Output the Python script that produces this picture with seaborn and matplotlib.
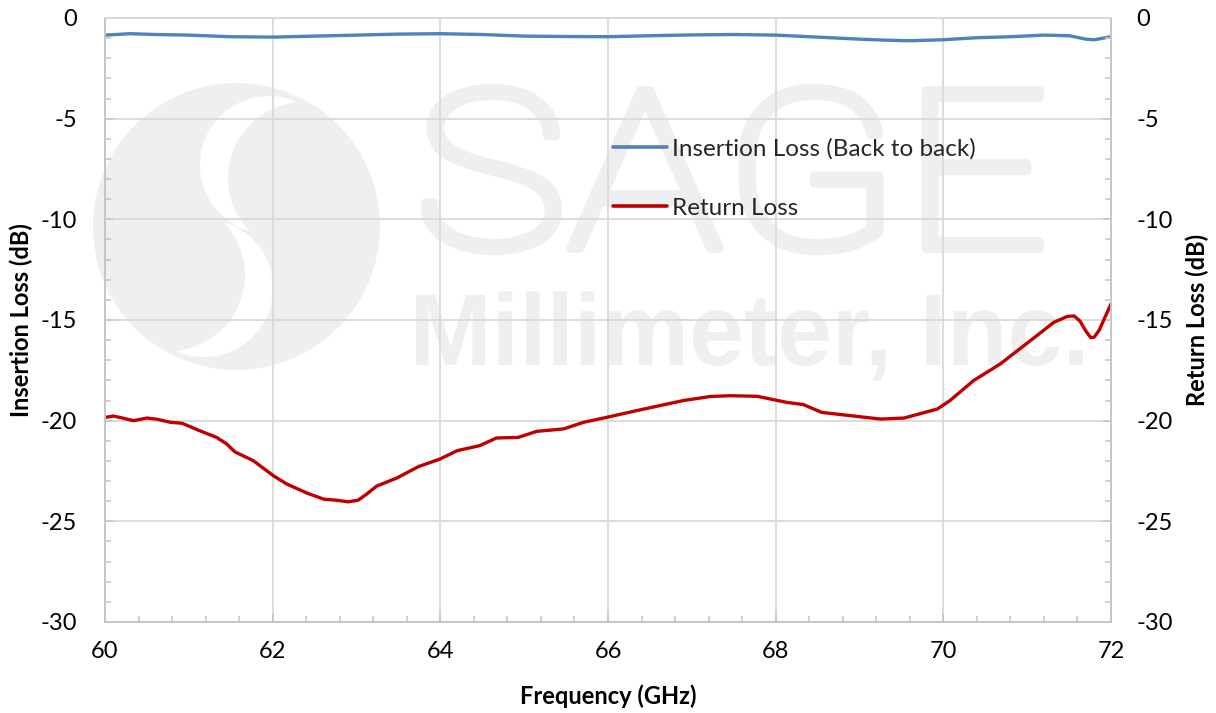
import numpy as np
import matplotlib
matplotlib.use("Agg")
import matplotlib.pyplot as plt
import seaborn as sns
from matplotlib.ticker import MultipleLocator
from matplotlib.patches import Circle, PathPatch
from matplotlib.textpath import TextPath
from matplotlib.font_manager import FontProperties
from matplotlib.transforms import Affine2D
from matplotlib.lines import Line2D

# Insertion loss, back-to-back (dB)
il_freq = [60.0, 60.3, 60.6, 61.0, 61.5, 62.0, 62.5, 63.0, 63.5, 64.0, 64.5,
           65.0, 65.5, 66.0, 66.5, 67.0, 67.5, 68.0, 68.5, 69.0, 69.3, 69.6,
           70.0, 70.4, 70.8, 71.2, 71.5, 71.7, 71.8, 72.0]
il_db = [-0.85, -0.78, -0.82, -0.85, -0.93, -0.95, -0.90, -0.85, -0.80, -0.78,
         -0.82, -0.90, -0.92, -0.93, -0.88, -0.84, -0.82, -0.85, -0.95, -1.05,
         -1.10, -1.13, -1.08, -0.98, -0.93, -0.85, -0.88, -1.05, -1.08, -0.93]

# Return loss (dB)
rl_freq = [60.00, 60.10, 60.22, 60.34, 60.50, 60.62, 60.78, 60.92, 61.13, 61.33,
           61.45, 61.55, 61.77, 62.01, 62.17, 62.41, 62.61, 62.76, 62.90, 63.02,
           63.12, 63.24, 63.48, 63.74, 64.00, 64.20, 64.47, 64.67, 64.93, 65.15,
           65.47, 65.71, 65.99, 66.31, 66.62, 66.90, 67.22, 67.46, 67.78, 68.13,
           68.33, 68.55, 68.89, 69.25, 69.53, 69.93, 70.08, 70.36, 70.68, 71.04,
           71.32, 71.48, 71.56, 71.63, 71.70, 71.76, 71.80, 71.86, 72.00]
rl_db = [-19.84, -19.77, -19.88, -20.00, -19.87, -19.93, -20.08, -20.13, -20.50, -20.83,
         -21.15, -21.55, -21.99, -22.74, -23.15, -23.60, -23.90, -23.95, -24.03, -23.95,
         -23.65, -23.25, -22.85, -22.28, -21.90, -21.49, -21.24, -20.86, -20.83, -20.53,
         -20.41, -20.08, -19.83, -19.53, -19.25, -19.00, -18.80, -18.76, -18.79, -19.09,
         -19.20, -19.59, -19.75, -19.92, -19.87, -19.42, -19.00, -18.01, -17.18, -16.02,
         -15.11, -14.82, -14.80, -15.05, -15.55, -15.88, -15.85, -15.50, -14.20]

labels = ["Insertion Loss (Back to back)", "Return Loss"]
colors = ["#4F81BD", "#C00000"]

sns.set_style("white")
plt.rcParams["font.family"] = ["Lato", "DejaVu Sans"]
plt.rcParams["axes.unicode_minus"] = False

fig = plt.figure(figsize=(12.16, 7.13), dpi=100, facecolor="white")

# --- background watermark (pixel coordinates, y downward) ---
bg = fig.add_axes([0, 0, 1, 1], zorder=-1)
bg.set_xlim(0, 1216)
bg.set_ylim(713, 0)
bg.axis("off")
wm = "#efefef"
disc = Circle((236.5, 226.5), 143.5, color=wm, lw=0)
bg.add_patch(disc)
for (cx, cy, r, c) in [(269, 165, 69, "white"), (304, 178, 76, wm),
                       (204, 288, 69, "white"), (169, 275, 76, wm)]:
    p = Circle((cx, cy), r, color=c, lw=0)
    bg.add_patch(p)
    p.set_clip_path(disc)


def place_text(s, prop, x0p, x1p, ytop, ybase, cap_ref=None, thicken=0.0):
    tp = TextPath((0, 0), s, size=100, prop=prop)
    ext = tp.get_extents()
    if cap_ref is None:
        h = ext.y1 - ext.y0
        yb = ext.y0
    else:
        ce = TextPath((0, 0), cap_ref, size=100, prop=prop).get_extents()
        h = ce.y1 - ce.y0
        yb = 0
    sx = (x1p - x0p) / (ext.x1 - ext.x0)
    sy = (ybase - ytop) / h
    tr = Affine2D().translate(-ext.x0, -yb).scale(sx, -sy).translate(x0p, ybase)
    bg.add_patch(PathPatch(tr.transform_path(tp), facecolor=wm, edgecolor=wm,
                           lw=thicken, joinstyle="round"))


place_text("SAGE", FontProperties(family="Roboto", weight="light"),
           426, 1039, 89, 250, thicken=7.5)
place_text("Millimeter, Inc.", FontProperties(family="Liberation Sans", weight="bold"),
           416, 1083, 295, 365, cap_ref="M")

# --- main axes ---
ax = fig.add_axes([105 / 1216, 1 - 622 / 713, 1006 / 1216, 604 / 713])
ax.patch.set_visible(False)
ax2 = ax.twinx()

sns.lineplot(x=il_freq, y=il_db, ax=ax, color=colors[0], linewidth=2.4,
             legend=False, sort=False)
sns.lineplot(x=rl_freq, y=rl_db, ax=ax2, color=colors[1], linewidth=2.4,
             legend=False, sort=False)

grid_c = "#d9d9d9"
spine_c = "#c6c6c6"
for a in (ax, ax2):
    a.set_xlim(60, 72)
    a.set_ylim(-30, 0)
    a.yaxis.set_major_locator(MultipleLocator(5))
    a.yaxis.set_minor_locator(MultipleLocator(1))
    for s in a.spines.values():
        s.set_color(spine_c)
        s.set_linewidth(1.3)
    a.spines["top"].set_color(grid_c)
    a.tick_params(which="both", direction="in", color=spine_c, width=1.2,
                  labelsize=17, labelcolor="black")
    a.tick_params(which="major", length=6)
    a.tick_params(which="minor", length=4.5)

ax.xaxis.set_major_locator(MultipleLocator(2))
ax.xaxis.set_minor_locator(MultipleLocator(0.4))
ax.tick_params(axis="y", which="both", left=True, right=False, pad=20)
ax.tick_params(axis="x", which="both", bottom=True, top=False, pad=14)
ax2.tick_params(axis="y", which="both", right=True, left=False, pad=18)
ax.set_xticks(np.arange(60, 73, 2))
ax.set_xticklabels([str(v) for v in range(60, 73, 2)])

ax.grid(True, which="major", color=grid_c, linewidth=1.3)
ax.set_axisbelow(True)
ax2.grid(False)

lab_kw = dict(fontsize=17, fontweight="bold", color="black")
ax.set_xlabel("Frequency (GHz)", **lab_kw)
ax.set_ylabel("Insertion Loss (dB)", **lab_kw)
ax2.set_ylabel("Return Loss (dB)", **lab_kw)
ax.xaxis.set_label_coords(0.5, -0.103)
ax.yaxis.set_label_coords(-0.0715, 0.5)
ax2.yaxis.set_label_coords(1.074, 0.5)

handles = [Line2D([], [], color=c, linewidth=2.6) for c in colors]
fs = 17.5
ax2.legend(handles, labels, loc="upper left", bbox_to_anchor=(0.505, 0.801),
           frameon=False, fontsize=fs, handlelength=54 / (fs * 1.389),
           handletextpad=5 / (fs * 1.389), labelspacing=1.57,
           borderpad=0, borderaxespad=0)

fig.savefig("out.png", dpi=100, facecolor="white")
